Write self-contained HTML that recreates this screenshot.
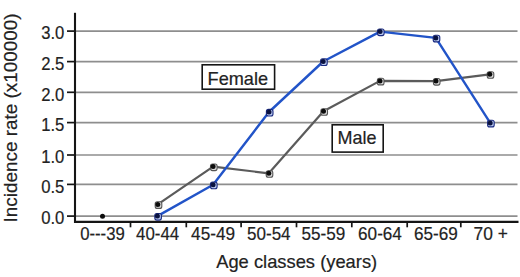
<!DOCTYPE html>
<html><head><meta charset="utf-8"><style>
html,body{margin:0;padding:0;background:#fff;}
body{width:520px;height:277px;overflow:hidden;}
svg{display:block;}
.t{font-family:"Liberation Sans",sans-serif;font-size:19px;fill:#222;stroke:#222;stroke-width:0.2px;}
.t18{font-family:"Liberation Sans",sans-serif;font-size:18.5px;fill:#222;stroke:#222;stroke-width:0.2px;}
.t19{font-family:"Liberation Sans",sans-serif;font-size:19px;fill:#222;stroke:#222;stroke-width:0.2px;}
</style></head><body>
<svg width="520" height="277" viewBox="0 0 520 277">
<line x1="76" y1="216.10" x2="517.5" y2="216.10" stroke="#8e8e8e" stroke-width="1.7"/>
<line x1="67" y1="216.10" x2="75" y2="216.10" stroke="#151515" stroke-width="1.7"/>
<text x="64.4" y="224.30" text-anchor="end" class="t" textLength="23.2" lengthAdjust="spacingAndGlyphs">0.0</text>
<line x1="76" y1="184.40" x2="517.5" y2="184.40" stroke="#8e8e8e" stroke-width="1.7"/>
<line x1="67" y1="184.40" x2="75" y2="184.40" stroke="#151515" stroke-width="1.7"/>
<text x="64.4" y="192.60" text-anchor="end" class="t" textLength="23.2" lengthAdjust="spacingAndGlyphs">0.5</text>
<line x1="76" y1="155.00" x2="517.5" y2="155.00" stroke="#8e8e8e" stroke-width="1.7"/>
<line x1="67" y1="155.00" x2="75" y2="155.00" stroke="#151515" stroke-width="1.7"/>
<text x="64.4" y="163.20" text-anchor="end" class="t" textLength="23.2" lengthAdjust="spacingAndGlyphs">1.0</text>
<line x1="76" y1="122.60" x2="517.5" y2="122.60" stroke="#8e8e8e" stroke-width="1.7"/>
<line x1="67" y1="122.60" x2="75" y2="122.60" stroke="#151515" stroke-width="1.7"/>
<text x="64.4" y="130.80" text-anchor="end" class="t" textLength="23.2" lengthAdjust="spacingAndGlyphs">1.5</text>
<line x1="76" y1="92.30" x2="517.5" y2="92.30" stroke="#8e8e8e" stroke-width="1.7"/>
<line x1="67" y1="92.30" x2="75" y2="92.30" stroke="#151515" stroke-width="1.7"/>
<text x="64.4" y="100.50" text-anchor="end" class="t" textLength="23.2" lengthAdjust="spacingAndGlyphs">2.0</text>
<line x1="76" y1="61.60" x2="517.5" y2="61.60" stroke="#8e8e8e" stroke-width="1.7"/>
<line x1="67" y1="61.60" x2="75" y2="61.60" stroke="#151515" stroke-width="1.7"/>
<text x="64.4" y="69.80" text-anchor="end" class="t" textLength="23.2" lengthAdjust="spacingAndGlyphs">2.5</text>
<line x1="76" y1="31.10" x2="517.5" y2="31.10" stroke="#8e8e8e" stroke-width="1.7"/>
<line x1="67" y1="31.10" x2="75" y2="31.10" stroke="#151515" stroke-width="1.7"/>
<text x="64.4" y="39.30" text-anchor="end" class="t" textLength="23.2" lengthAdjust="spacingAndGlyphs">3.0</text>
<line x1="75" y1="12.8" x2="75" y2="223" stroke="#151515" stroke-width="2.1"/>
<line x1="74" y1="221.9" x2="518.5" y2="221.9" stroke="#151515" stroke-width="2.1"/>
<line x1="130.50" y1="222" x2="130.50" y2="227.3" stroke="#151515" stroke-width="1.7"/>
<line x1="186.30" y1="222" x2="186.30" y2="227.3" stroke="#151515" stroke-width="1.7"/>
<line x1="241.10" y1="222" x2="241.10" y2="227.3" stroke="#151515" stroke-width="1.7"/>
<line x1="296.50" y1="222" x2="296.50" y2="227.3" stroke="#151515" stroke-width="1.7"/>
<line x1="351.80" y1="222" x2="351.80" y2="227.3" stroke="#151515" stroke-width="1.7"/>
<line x1="407.20" y1="222" x2="407.20" y2="227.3" stroke="#151515" stroke-width="1.7"/>
<line x1="460.80" y1="222" x2="460.80" y2="227.3" stroke="#151515" stroke-width="1.7"/>
<text x="102.50" y="240.4" text-anchor="middle" class="t" textLength="44.6" lengthAdjust="spacingAndGlyphs">0---39</text>
<text x="157.60" y="240.4" text-anchor="middle" class="t" textLength="43.1" lengthAdjust="spacingAndGlyphs">40-44</text>
<text x="213.10" y="240.4" text-anchor="middle" class="t" textLength="44.0" lengthAdjust="spacingAndGlyphs">45-49</text>
<text x="268.80" y="240.4" text-anchor="middle" class="t" textLength="43.6" lengthAdjust="spacingAndGlyphs">50-54</text>
<text x="323.40" y="240.4" text-anchor="middle" class="t" textLength="43.8" lengthAdjust="spacingAndGlyphs">55-59</text>
<text x="380.00" y="240.4" text-anchor="middle" class="t" textLength="43.8" lengthAdjust="spacingAndGlyphs">60-64</text>
<text x="435.80" y="240.4" text-anchor="middle" class="t" textLength="43.8" lengthAdjust="spacingAndGlyphs">65-69</text>
<text x="490.70" y="240.4" text-anchor="middle" class="t" textLength="34.3" lengthAdjust="spacingAndGlyphs">70 +</text>
<text x="296.7" y="267.8" text-anchor="middle" class="t19" textLength="161" lengthAdjust="spacingAndGlyphs">Age classes (years)</text>
<text transform="translate(17.4,117.9) rotate(-90)" x="0" y="0" text-anchor="middle" class="t19" textLength="209" lengthAdjust="spacingAndGlyphs">Incidence rate (x100000)</text>
<polyline points="157.80,204.40 213.10,166.60 268.80,173.30 323.50,111.30 380.00,80.90 436.00,81.10 489.80,74.30" fill="none" stroke="#5b5b5b" stroke-width="2.2" stroke-linejoin="round"/>
<polyline points="157.40,216.10 213.10,184.70 269.00,112.00 323.20,61.50 380.10,31.60 435.80,37.90 490.20,122.90" fill="none" stroke="#2254c8" stroke-width="2.4" stroke-linejoin="round"/>
<rect x="155.20" y="201.80" width="6.6" height="6.6" rx="2" fill="#d8d8d8" stroke="#555" stroke-width="1.1"/><circle cx="157.80" cy="204.40" r="2.5" fill="#0c0c0c"/>
<rect x="210.50" y="164.00" width="6.6" height="6.6" rx="2" fill="#d8d8d8" stroke="#555" stroke-width="1.1"/><circle cx="213.10" cy="166.60" r="2.5" fill="#0c0c0c"/>
<rect x="266.20" y="170.70" width="6.6" height="6.6" rx="2" fill="#d8d8d8" stroke="#555" stroke-width="1.1"/><circle cx="268.80" cy="173.30" r="2.5" fill="#0c0c0c"/>
<rect x="320.90" y="108.70" width="6.6" height="6.6" rx="2" fill="#d8d8d8" stroke="#555" stroke-width="1.1"/><circle cx="323.50" cy="111.30" r="2.5" fill="#0c0c0c"/>
<rect x="377.40" y="78.30" width="6.6" height="6.6" rx="2" fill="#d8d8d8" stroke="#555" stroke-width="1.1"/><circle cx="380.00" cy="80.90" r="2.5" fill="#0c0c0c"/>
<rect x="433.40" y="78.50" width="6.6" height="6.6" rx="2" fill="#d8d8d8" stroke="#555" stroke-width="1.1"/><circle cx="436.00" cy="81.10" r="2.5" fill="#0c0c0c"/>
<rect x="487.20" y="71.70" width="6.6" height="6.6" rx="2" fill="#d8d8d8" stroke="#555" stroke-width="1.1"/><circle cx="489.80" cy="74.30" r="2.5" fill="#0c0c0c"/>
<rect x="154.80" y="213.50" width="6.6" height="6.6" rx="2" fill="#b8c8f0" stroke="#1a2a80" stroke-width="1.1"/><circle cx="157.40" cy="216.10" r="2.5" fill="#0a1240"/>
<rect x="210.50" y="182.10" width="6.6" height="6.6" rx="2" fill="#b8c8f0" stroke="#1a2a80" stroke-width="1.1"/><circle cx="213.10" cy="184.70" r="2.5" fill="#0a1240"/>
<rect x="266.40" y="109.40" width="6.6" height="6.6" rx="2" fill="#b8c8f0" stroke="#1a2a80" stroke-width="1.1"/><circle cx="269.00" cy="112.00" r="2.5" fill="#0a1240"/>
<rect x="320.60" y="58.90" width="6.6" height="6.6" rx="2" fill="#b8c8f0" stroke="#1a2a80" stroke-width="1.1"/><circle cx="323.20" cy="61.50" r="2.5" fill="#0a1240"/>
<rect x="377.50" y="29.00" width="6.6" height="6.6" rx="2" fill="#b8c8f0" stroke="#1a2a80" stroke-width="1.1"/><circle cx="380.10" cy="31.60" r="2.5" fill="#0a1240"/>
<rect x="433.20" y="35.30" width="6.6" height="6.6" rx="2" fill="#b8c8f0" stroke="#1a2a80" stroke-width="1.1"/><circle cx="435.80" cy="37.90" r="2.5" fill="#0a1240"/>
<rect x="487.60" y="120.30" width="6.6" height="6.6" rx="2" fill="#b8c8f0" stroke="#1a2a80" stroke-width="1.1"/><circle cx="490.20" cy="122.90" r="2.5" fill="#0a1240"/>
<circle cx="102.50" cy="216.2" r="2.5" fill="#0c0c0c"/>
<rect x="202.2" y="64.8" width="72.4" height="24.4" fill="#fff" stroke="#151515" stroke-width="1.6"/>
<text x="207.6" y="84.5" class="t18" textLength="60.5" lengthAdjust="spacingAndGlyphs">Female</text>
<rect x="332.2" y="124.8" width="51" height="27.3" fill="#fff" stroke="#151515" stroke-width="1.6"/>
<text x="337.6" y="144" class="t18" textLength="39" lengthAdjust="spacingAndGlyphs">Male</text>
</svg>
</body></html>
